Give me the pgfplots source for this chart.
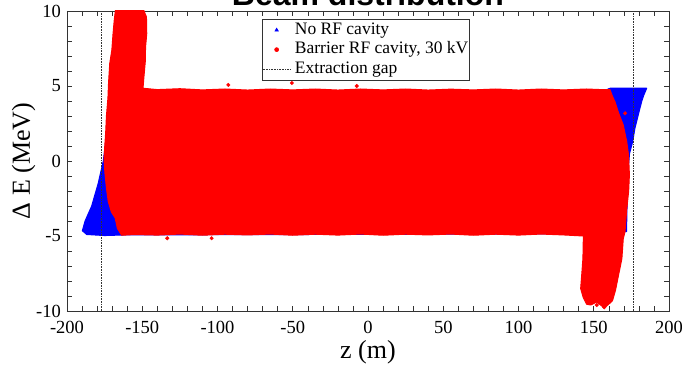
\documentclass[border=0pt]{standalone}
\usepackage{fontspec}
\setmainfont{Liberation Serif}
\newfontfamily\titlesans{Liberation Sans}
\usepackage{pgfplots}
\pgfplotsset{compat=1.18}
\begin{document}
\begin{tikzpicture}
\begin{axis}[
  scale only axis, width=602pt, height=300pt,
  xmin=-200, xmax=200, ymin=-10, ymax=10,
  xtick={-200,-150,-100,-50,0,50,100,150,200},
  xticklabels={-200,-150,-100,-50,0,50,100,150,200},
  ytick={-10,-5,0,5,10},
  yticklabels={-10,-5,0,5,10},
  minor x tick num=4, minor y tick num=4,
  tick align=inside,
  major tick length=5pt, minor tick length=5pt,
  axis line style={black!80, line width=0.6pt},
  every tick/.style={black!80, line width=0.6pt},
  tick label style={font=\fontsize{18.5}{20}\selectfont, inner sep=0pt},
  xticklabel style={yshift=-10pt},
  yticklabel style={xshift=-6pt},
  xlabel={z (m)}, ylabel={Δ E (MeV)},
  label style={font=\fontsize{26}{30}\selectfont, inner sep=0pt},
  xlabel style={at={(axis description cs:0.5,0)}, anchor=base, yshift=-47.5pt},
  ylabel style={at={(axis description cs:-0.0615,0.5)}, anchor=base},
  title={Beam distribution},
  title style={at={(axis description cs:0.5,1)}, anchor=base, yshift=-0.5pt, font=\titlesans\bfseries\fontsize{32}{36}\selectfont},
  legend style={at={(axis description cs:0.324,0.973)}, anchor=north west, draw=black!80, line width=0.6pt, fill=white,
    font=\fontsize{17.5}{20}\selectfont, inner xsep=0pt, inner ysep=1pt, row sep=0pt, column sep=3pt,
    nodes={inner sep=1pt, text height=13pt, text depth=4.5pt}},
  legend cell align=left,
  legend image code/.code={\draw[mark repeat=2,mark phase=2,#1] plot coordinates {(0pt,0pt)(14pt,0pt)(28pt,0pt)};},
  legend entries={No RF cavity, {Barrier RF cavity, 30 kV}, Extraction gap},
]
\addlegendimage{only marks, mark=triangle*, mark size=2pt, blue}
\addlegendimage{only marks, mark=*, mark size=2pt, red}
% No RF cavity (blue) particle region
\addplot[fill=blue, draw=blue, line width=1pt, line join=round, forget plot] coordinates {
(-189.8,-4.65) (-188.0,-4.0) (-185.8,-3.5) (-183.6,-3.0) (-181.6,-2.3) (-179.3,-1.5)
(-177.5,-0.7) (-175.9,0.0) (-174,1.5) (-160,4.6) (155,4.6) (160.8,4.85) (185.2,4.85)
(183.3,4.4) (181.8,3.95) (179.6,3.07) (177.4,2.2) (175.9,1.3) (173.8,0.5) (172.5,-1.0)
(171.8,-4.7) (165,-4.85) (-161.5,-4.93) (-175,-4.97) (-186.9,-4.9)
} -- cycle;
% Barrier RF cavity (red) particle region
\addplot[fill=red, draw=red, line width=1pt, line join=round, forget plot] coordinates {
(-163.7,-4.95) (-166.5,-4.5) (-168,-3.8) (-170.5,-3.4) (-172.6,-2.7) (-173.8,-1.8)
(-174.8,-0.8) (-175.4,0.1) (-174.9,1.0) (-174.3,1.9) (-173.8,3.0) (-172.8,4.2)
(-172.4,5.2) (-171.6,6.5) (-170.2,7.4) (-169.4,8.5) (-168.6,9.4) (-167.5,10.3)
(-150,10.3) (-147.2,9.6) (-147.0,8.5) (-147.8,7.6) (-148.0,6.6) (-148.8,5.7) (-149.5,4.85)
(-140,4.76) (-125,4.82) (-110,4.74) (-95,4.8) (-80,4.73) (-65,4.8) (-50,4.74) (-35,4.8)
(-20,4.73) (-5,4.8) (10,4.74) (25,4.8) (40,4.73) (55,4.79) (70,4.74) (85,4.8) (100,4.73)
(115,4.8) (130,4.74) (145,4.8) (155,4.76) (160.8,4.75)
(162.5,4.3) (164.1,3.95) (166.5,3.2) (169.6,2.4) (171.9,1.3) (173.1,0.4) (173.7,-0.9)
(173.2,-2.0) (172.0,-3.15) (171.3,-4.0) (170.8,-4.7) (169.6,-5.2) (168.7,-6.5) (166.5,-7.6)
(164.5,-8.6) (162.5,-9.3) (160.5,-9.5) (157,-9.8) (152,-9.4) (148,-9.6) (145.3,-9.55)
(143.0,-9.1) (141.3,-8.5) (142.0,-7.6) (142.8,-6.5) (143.1,-5.0)
(130,-4.93) (115,-4.87) (100,-4.94) (85,-4.88) (70,-4.95) (55,-4.87) (40,-4.93) (25,-4.88)
(10,-4.95) (-5,-4.87) (-20,-4.94) (-35,-4.88) (-50,-4.95) (-65,-4.87) (-80,-4.93) (-95,-4.88)
(-110,-4.95) (-125,-4.87) (-140,-4.94) (-155,-4.9)
} -- cycle;
% isolated red particles
\addplot[only marks, mark=*, mark size=1.8pt, red, forget plot] coordinates {
(-92.8,5.07) (-50.6,5.2) (-7.5,5.0) (-133.4,-5.15) (-103.9,-5.15) (170.8,3.18) (157,-9.75) (152,-9.6)
};
% extraction gap
\addplot[densely dotted, black!80, line width=0.6pt] coordinates {(-177.5,-10) (-177.5,10)};
\addplot[densely dotted, black!80, line width=0.6pt, forget plot] coordinates {(176.5,-10) (176.5,10)};
\coordinate (sw) at (rel axis cs:0,0);
\end{axis}
\pgfresetboundingbox
\path (sw) ++(-67pt,-53pt) rectangle ++(682pt,364pt);
\end{tikzpicture}
\end{document}
